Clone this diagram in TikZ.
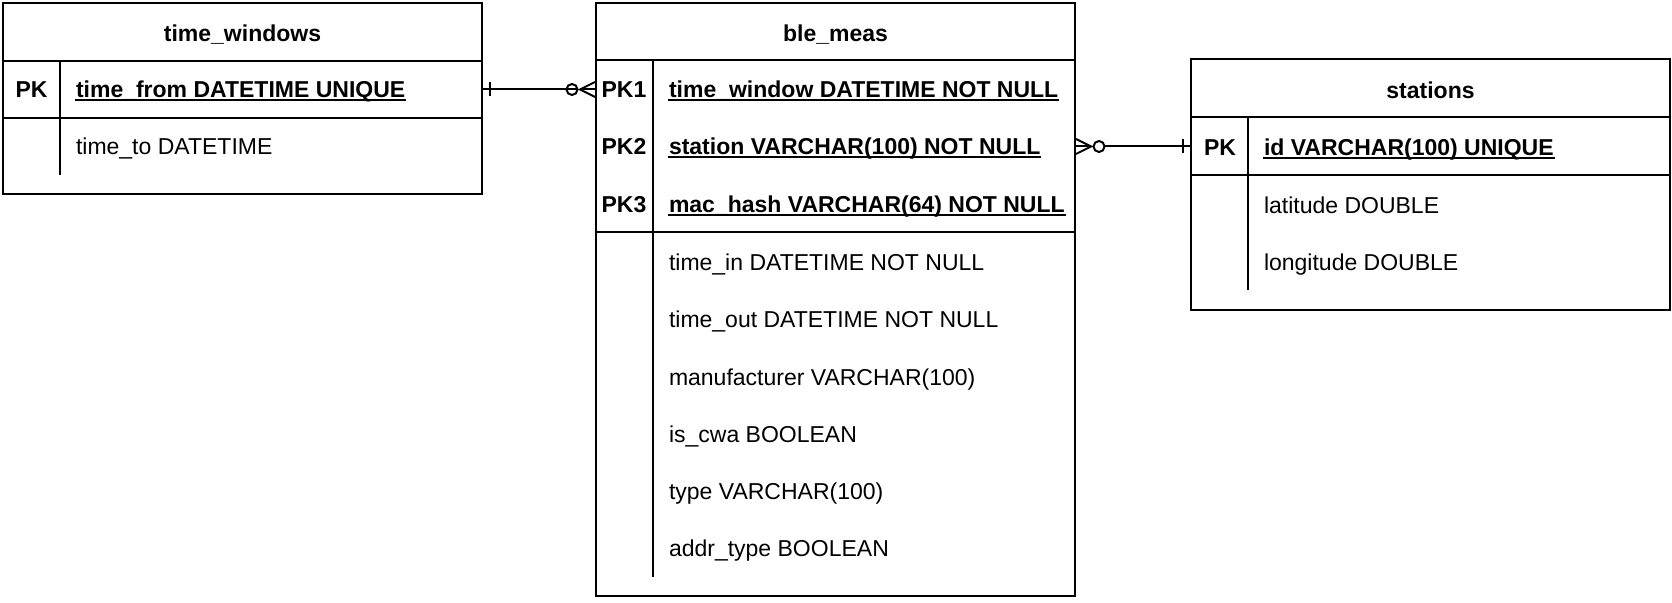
\documentclass[tikz,border=0pt]{standalone}
\usepackage{fontspec}
\setmainfont{Liberation Sans}
\usetikzlibrary{fit,calc}
\begin{document}
\begin{tikzpicture}[x=0.5pt,y=-0.5pt, line width=1pt, line cap=butt,
  tbl/.style={draw, inner sep=0pt, line width=1pt},
  ttl/.style={inner sep=0pt, anchor=base, font=\fontsize{11.5}{13}\selectfont\bfseries},
  keyt/.style={inner sep=0pt, anchor=base, font=\fontsize{11.5}{13}\selectfont\bfseries},
  fldb/.style={inner sep=0pt, anchor=base west, font=\fontsize{11.5}{13}\selectfont\bfseries},
  fld/.style={inner sep=0pt, anchor=base west, font=\fontsize{11.5}{13}\selectfont},
  uln/.style={line width=0.8pt},
  conn/.style={line width=1pt}]
\useasboundingbox (0,0) rectangle (1672,603);

% ---------- time_windows ----------
\node[tbl, fit={(3,3) (482,194)}] (tw) {};
\draw (tw.west |- 0,61) -- (tw.east |- 0,61);
\draw (tw.west |- 0,118) -- (tw.east |- 0,118);
\draw (60,61) -- (60,175);
\node[ttl] (twt) at (242.5,42) {time\_windows};
\node[keyt] (twk) at (31.5,98) {PK};
\node[fldb] (twf1) at (75,98) {time\_from DATETIME UNIQUE};
\draw[uln] ([yshift=-1pt]twf1.base west) -- ([yshift=-1pt]twf1.base east);
\node[fld] (twf2) at (75,155) {time\_to DATETIME};

% ---------- ble_meas ----------
\node[tbl, fit={(596,3) (1075,596)}] (bm) {};
\draw (bm.west |- 0,60.5) -- (bm.east |- 0,60.5);
\draw (bm.west |- 0,232.5) -- (bm.east |- 0,232.5);
\draw (653,60.5) -- (653,577);
\node[ttl] (bmt) at (835.5,42) {ble\_meas};
\node[keyt] (bmk1) at (624,98) {PK1};
\node[keyt] (bmk2) at (624,155) {PK2};
\node[keyt] (bmk3) at (624,213) {PK3};
\node[fldb] (bmf1) at (668,98) {time\_window DATETIME NOT NULL};
\node[fldb] (bmf2) at (668,155) {station VARCHAR(100) NOT NULL};
\node[fldb] (bmf3) at (668,213) {mac\_hash VARCHAR(64) NOT NULL};
\foreach \n in {bmf1,bmf2,bmf3}
  \draw[uln] ([yshift=-1pt]\n.base west) -- ([yshift=-1pt]\n.base east);
\node[fld] (bmf4) at (668,271) {time\_in DATETIME NOT NULL};
\node[fld] (bmf5) at (668,328) {time\_out DATETIME NOT NULL};
\node[fld] (bmf6) at (668,386) {manufacturer VARCHAR(100)};
\node[fld] (bmf7) at (668,443) {is\_cwa BOOLEAN};
\node[fld] (bmf8) at (668,500) {type VARCHAR(100)};
\node[fld] (bmf9) at (668,557) {addr\_type BOOLEAN};

% ---------- stations ----------
\node[tbl, fit={(1191,59) (1670,310)}] (st) {};
\draw (st.west |- 0,117) -- (st.east |- 0,117);
\draw (st.west |- 0,175) -- (st.east |- 0,175);
\draw (1248,117) -- (1248,290);
\node[ttl] (stt) at (1430.5,99) {stations};
\node[keyt] (stk) at (1220,156) {PK};
\node[fldb] (stf1) at (1263,156) {id VARCHAR(100) UNIQUE};
\draw[uln] ([yshift=-1pt]stf1.base west) -- ([yshift=-1pt]stf1.base east);
\node[fld] (stf2) at (1263,214) {latitude DOUBLE};
\node[fld] (stf3) at (1263,271) {longitude DOUBLE};

% ---------- connectors ----------
\coordinate (r1) at (0,89.5);
\coordinate (r2) at (0,146.5);
% time_windows (one) -- ble_meas (zero or many)
\coordinate (a1) at (tw.east |- r1);
\coordinate (b1) at (bm.west |- r1);
\draw[conn] (a1) -- ($(b1)+(-17,0)$);
\draw[conn] ($(a1)+(7,-7)$) -- ($(a1)+(7,7)$);
\draw[conn] ($(b1)+(-23,0)$) circle[radius=5.5];
\draw[conn] ($(b1)+(0,-7.5)$) -- ($(b1)+(-15,0)$) -- ($(b1)+(0,7.5)$);
\draw[conn] ($(b1)+(-15,0)$) -- (b1);
% ble_meas (zero or many) -- stations (one)
\coordinate (a2) at (bm.east |- r2);
\coordinate (b2) at (st.west |- r2);
\draw[conn] ($(a2)+(29,0)$) -- (b2);
\draw[conn] ($(b2)+(-7,-7)$) -- ($(b2)+(-7,7)$);
\draw[conn] ($(a2)+(23,0)$) circle[radius=5.5];
\draw[conn] ($(a2)+(0,-7.5)$) -- ($(a2)+(15,0)$) -- ($(a2)+(0,7.5)$);
\draw[conn] (a2) -- ($(a2)+(15,0)$);
\end{tikzpicture}
\end{document}
